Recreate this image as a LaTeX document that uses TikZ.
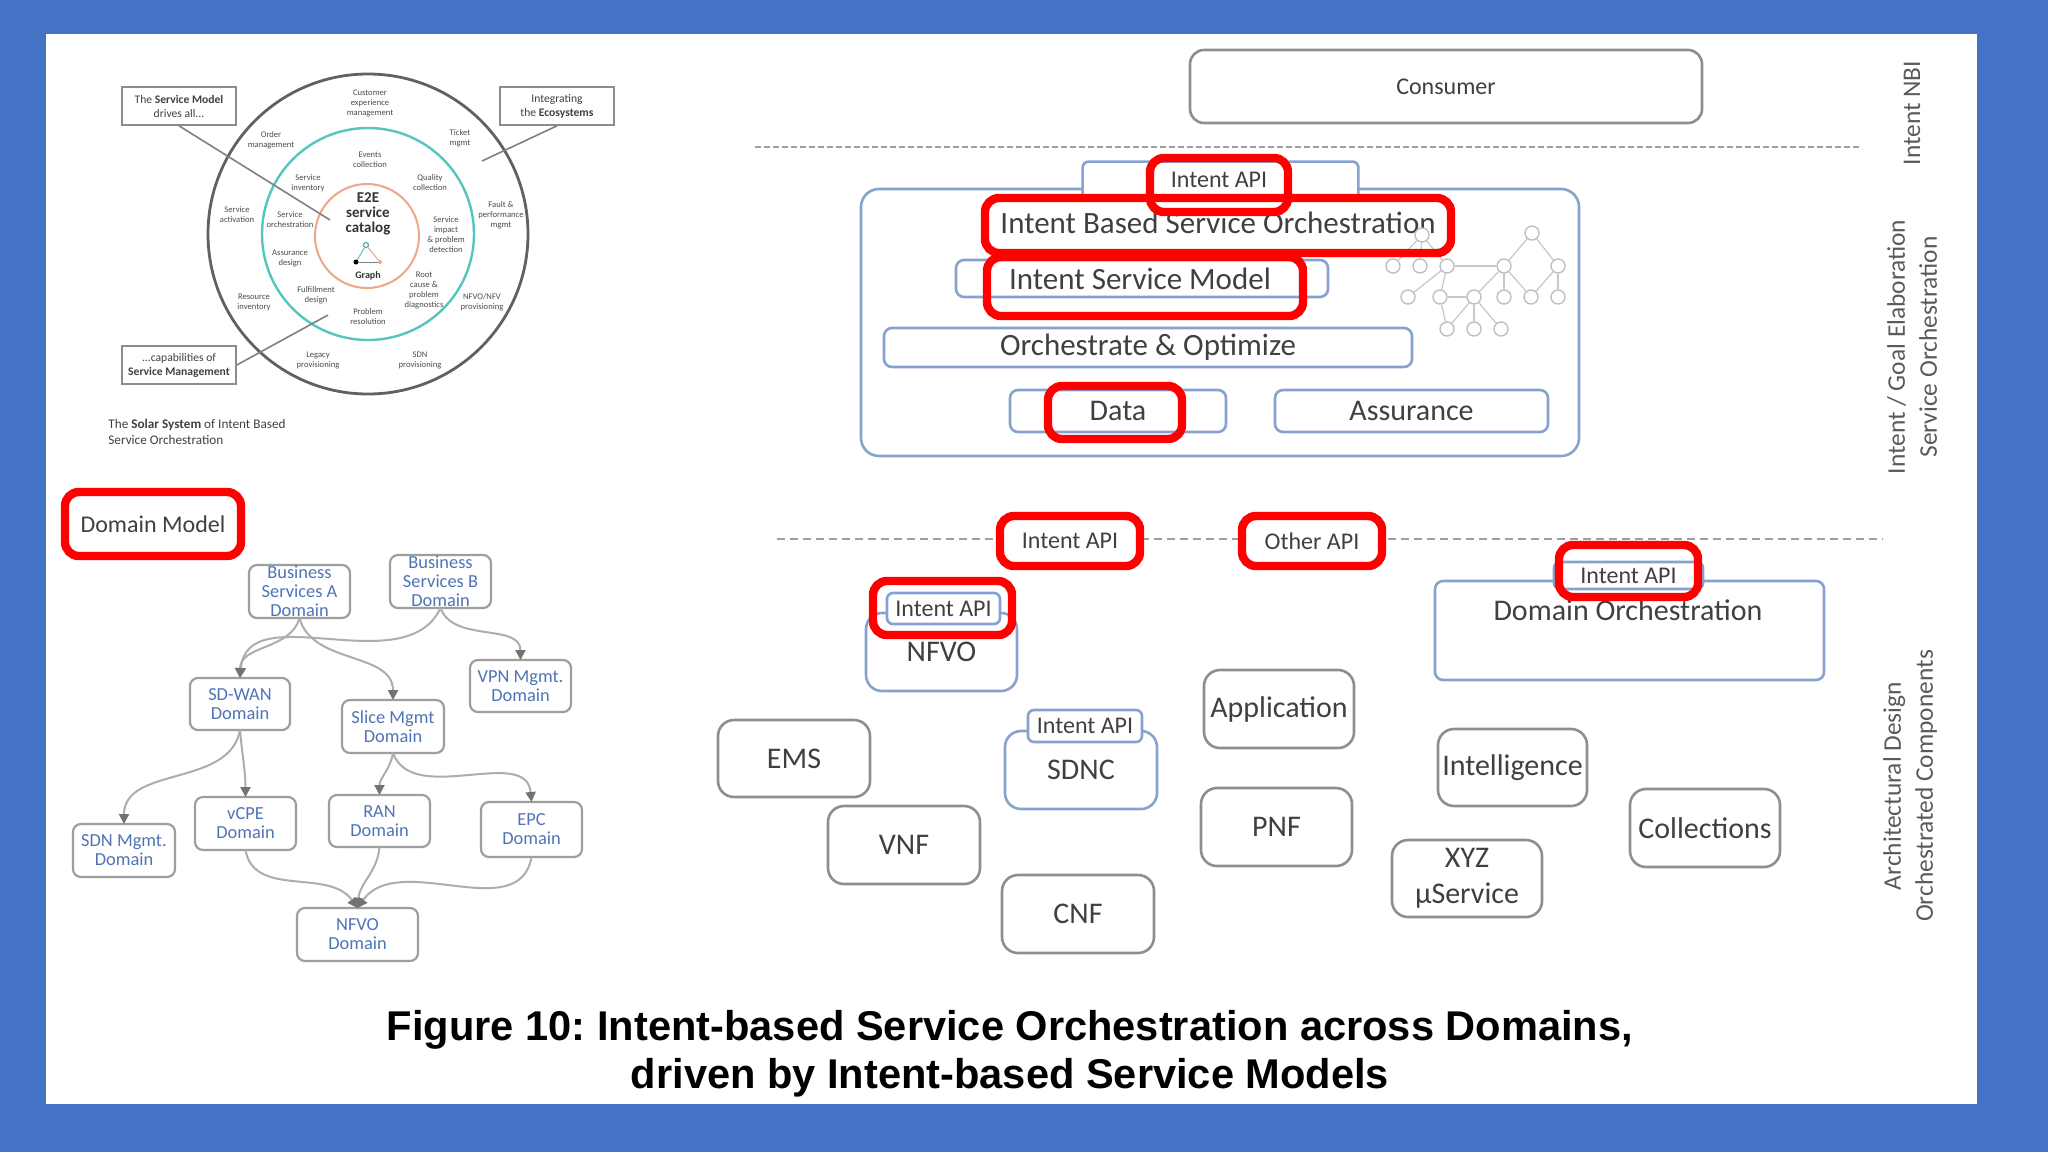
\documentclass[tikz,border=0pt]{standalone}
\usepackage{fontspec}
\setmainfont{Carlito}
\newfontfamily\capfont{Liberation Sans}
\usetikzlibrary{arrows.meta}
\frenchspacing
\definecolor{bgblue}{HTML}{4472C4}
\definecolor{boxgray}{HTML}{8E8E8E}
\definecolor{boxblue}{HTML}{86A2CE}
\definecolor{txtgray}{HTML}{404040}
\definecolor{lblgray}{HTML}{5A5A5A}
\definecolor{ringteal}{HTML}{55C6BD}
\definecolor{ringorange}{HTML}{EFA58C}
\definecolor{dtext}{HTML}{4F74B6}
\newcommand\mybox[7]{\node[#6, minimum width={(#4-#2)*0.5pt}, minimum height={(#5-#3)*0.5pt}] (#1) at ({(#2+#4)/2},{(#3+#5)/2}) {#7};}
\tikzset{
  gbox/.style={draw=boxgray, line width=1.3pt, rounded corners=5pt, fill=white, inner sep=0pt, outer sep=0pt, text=txtgray, font=\fontsize{15}{17}\selectfont, align=center},
  bbox/.style={gbox, draw=boxblue},
  tabbox/.style={bbox, rounded corners=3pt, font=\fontsize{12}{14}\selectfont},
  redbox/.style={draw=red, line width=4.2pt, rounded corners=7pt, inner sep=0pt, outer sep=0pt, text=txtgray, font=\fontsize{12}{14}\selectfont},
  lbl/.style={text=txtgray, inner sep=0pt},
  vlbl/.style={rotate=90, text=lblgray, align=center, inner sep=0pt, font=\fontsize{12.7}{16}\selectfont},
  dashA/.style={draw=black!38, line width=1.4pt, dash pattern=on 3pt off 1.5pt},
  dashB/.style={draw=black!38, line width=1.4pt, dash pattern=on 4pt off 2.5pt},
  tc/.style={circle, draw=black!25, line width=0.7pt, fill=white, minimum size=7pt, inner sep=0pt},
  tedge/.style={draw=black!22, line width=0.6pt},
  ring/.style={font=\fontsize{4.3}{5}\selectfont, align=center, text=black!70, inner sep=0pt},
  callout/.style={draw=black!45, line width=0.8pt, fill=white, minimum width=57pt, minimum height=19pt, align=center, font=\fontsize{5.8}{7}\selectfont, text=black!75, inner sep=1pt},
  cline/.style={draw=black!50, line width=0.8pt},
  dbox/.style={draw=black!38, line width=1.1pt, rounded corners=4pt, fill=white, inner sep=0pt, outer sep=0pt, align=center, text=dtext, font=\fontsize{9.2}{9.5}\selectfont},
  dedge/.style={draw=black!32, line width=1pt, -{Triangle[length=5pt,width=5pt,color=black!55]}},
}
\begin{document}
\begin{tikzpicture}[x=0.5pt,y=-0.5pt]
\fill[bgblue] (0,0) rectangle (2048,1152);
\fill[white] (46,34) rectangle (1977,1104);
\useasboundingbox (0,0) rectangle (2048,1152);

% ---------------- Solar system ----------------
\node[circle, draw=black!62, line width=1.4pt, minimum size=160pt, inner sep=0pt] (outer) at (368,234) {};
\node[circle, draw=ringteal, line width=1.2pt, minimum size=106pt, inner sep=0pt] (tealc) at (368,234) {};
\node[circle, draw=ringorange, line width=1pt, minimum size=52pt, inner sep=0pt] (orc) at (367,236) {};
\node[font=\bfseries\fontsize{7.5}{7.6}\selectfont, align=center, inner sep=0pt, text=black!80] (e2e) at (368,214) {E2E\\service\\catalog};
\node[font=\bfseries\fontsize{5}{6}\selectfont, inner sep=0pt, text=black!80] (graph) at (368,276) {Graph};
\node[circle, fill=black, minimum size=2.5pt, inner sep=0pt] (g1) at (356,262) {};
\node[circle, draw=ringteal!80!black, line width=0.5pt, minimum size=2.5pt, inner sep=0pt] (g2) at (366,245) {};
\node[circle, fill=ringorange, minimum size=2pt, inner sep=0pt] (g3) at (380,262) {};
\draw[ringteal, line width=0.5pt] (g1) -- (g2);
\draw[ringorange, line width=0.5pt] (g2) -- (g3);
\draw[black!50, line width=0.5pt] (g1) -- (g3);

\node[ring] (r1) at (370,103) {Customer\\experience\\management};
\node[ring] (r2) at (271,140) {Order\\management};
\node[ring] (r3) at (460,138) {Ticket\\mgmt};
\node[ring] (r4) at (237,215) {Service\\activation};
\node[ring] (r5) at (501,215) {Fault \&\\performance\\mgmt};
\node[ring] (r6) at (254,302) {Resource\\inventory};
\node[ring] (r7) at (482,302) {NFVO/NFV\\provisioning};
\node[ring] (r8) at (318,360) {Legacy\\provisioning};
\node[ring] (r9) at (420,360) {SDN\\provisioning};
\node[ring] (i1) at (370,160) {Events\\collection};
\node[ring] (i2) at (308,183) {Service\\inventory};
\node[ring] (i3) at (430,183) {Quality\\collection};
\node[ring] (i4) at (290,220) {Service\\orchestration};
\node[ring] (i5) at (446,235) {Service\\impact\\\& problem\\detection};
\node[ring] (i6) at (290,258) {Assurance\\design};
\node[ring] (i7) at (424,290) {Root\\cause \&\\problem\\diagnostics};
\node[ring] (i8) at (316,295) {Fulfillment\\design};
\node[ring] (i9) at (368,317) {Problem\\resolution};

\node[callout] (co1) at (179,106) {The \textbf{Service Model}\\drives all...};
\node[callout] (co2) at (557,106) {Integrating\\the \textbf{Ecosystems}};
\node[callout] (co3) at (179,365) {...capabilities of\\\textbf{Service Management}};
\coordinate (ce1) at (330,220);
\coordinate (ce2) at (482,161);
\coordinate (ce3) at (328,315);
\draw[cline] (co1.south) -- (ce1);
\draw[cline] (co2.south) -- (ce2);
\draw[cline] (co3.east) -- (ce3);
\node[anchor=north west, align=left, font=\fontsize{6.6}{8}\selectfont, text=black!75, inner sep=0pt] (solcap) at (108,419) {The \textbf{Solar System} of Intent Based\\Service Orchestration};

% ---------------- Domain model ----------------
\mybox{dm}{65}{492}{241}{556}{redbox, fill=white}{\fontsize{12}{14}\selectfont Domain Model}
\mybox{bsa}{249}{565}{350}{618}{dbox}{Business\\Services A\\Domain}
\mybox{bsb}{390}{555}{491}{608}{dbox}{Business\\Services B\\Domain}
\mybox{sdwan}{190}{678}{290}{730}{dbox}{SD-WAN\\Domain}
\mybox{slice}{342}{700}{444}{753}{dbox}{Slice Mgmt\\Domain}
\mybox{vpn}{470}{660}{571}{712}{dbox}{VPN Mgmt.\\Domain}
\mybox{sdn}{73}{824}{175}{877}{dbox}{SDN Mgmt.\\Domain}
\mybox{vcpe}{195}{797}{296}{850}{dbox}{vCPE\\Domain}
\mybox{ran}{329}{795}{430}{847}{dbox}{RAN\\Domain}
\mybox{epc}{481}{802}{582}{857}{dbox}{EPC\\Domain}
\mybox{nfvod}{297}{908}{418}{961}{dbox}{NFVO\\Domain}
\draw[dedge] (bsa.south) to[out=-105,in=90] (sdwan.north);
\draw[dedge] (bsa.south) to[out=-75,in=90] (slice.north);
\draw[dedge] (bsb.south) to[out=-115,in=85] (sdwan.north);
\draw[dedge] (bsb.south) to[out=-70,in=90] (vpn.north);
\draw[dedge] (sdwan.south) to[out=-100,in=90] (sdn.north);
\draw[dedge] (sdwan.south) to[out=-85,in=90] (vcpe.north);
\draw[dedge] (slice.south) to[out=-100,in=90] (ran.north);
\draw[dedge] (slice.south) to[out=-70,in=95] (epc.north);
\draw[dedge] (vcpe.south) to[out=-80,in=125] (nfvod.north);
\draw[dedge] (ran.south) to[out=-95,in=85] (nfvod.north);
\draw[dedge] (epc.south) to[out=-100,in=55] (nfvod.north);

% ---------------- Top right ----------------
\mybox{cons}{1190}{50}{1702}{123}{gbox, rounded corners=7pt, font=\fontsize{12}{14}\selectfont}{Consumer}
\coordinate (d1a) at (755,147);
\coordinate (d1b) at (1861,147);
\draw[dashA] (d1a) -- (d1b);

\mybox{orch}{861}{189}{1579}{456}{bbox, rounded corners=9pt}{}
\mybox{tab}{1083}{162}{1358}{195}{draw=none, fill=white, inner sep=0pt}{}
\draw[boxblue, line width=1.3pt, rounded corners=3pt] (tab.south west) -- (tab.north west) -- (tab.north east) -- (tab.south east);
\node[lbl, font=\fontsize{12}{14}\selectfont] (tapi) at (1219,180) {Intent API};
\node[lbl, font=\fontsize{15.5}{17}\selectfont] (ibso) at (1218,223) {Intent Based Service Orchestration};
\mybox{ism}{956}{260}{1328}{297}{bbox, rounded corners=4pt}{}
\node[lbl, font=\fontsize{15.5}{17}\selectfont] (ismt) at (1140,279) {Intent Service Model};
\mybox{oo}{884}{328}{1412}{367}{bbox, rounded corners=4pt, font=\fontsize{15.5}{17}\selectfont}{Orchestrate \& Optimize}
\mybox{data}{1010}{390}{1226}{432}{bbox, rounded corners=4pt}{}
\node[lbl, font=\fontsize{15}{17}\selectfont] (datat) at (1118,411) {Data};
\mybox{assu}{1275}{390}{1548}{432}{bbox, rounded corners=4pt}{Assurance}

% tree graph
\node[tc] (t0) at (1532,233) {};
\node[tc] (t00) at (1422,235) {};
\node[tc] (a1) at (1393,266) {};
\node[tc] (a2) at (1420,266) {};
\node[tc] (a3) at (1447,266) {};
\node[tc] (a4) at (1504,266) {};
\node[tc] (a5) at (1558,266) {};
\node[tc] (b1) at (1408,297) {};
\node[tc] (b2) at (1440,297) {};
\node[tc] (b3) at (1474,297) {};
\node[tc] (b4) at (1504,297) {};
\node[tc] (b5) at (1531,297) {};
\node[tc] (b6) at (1558,297) {};
\node[tc] (c1) at (1447,329) {};
\node[tc] (c2) at (1474,329) {};
\node[tc] (c3) at (1501,329) {};
\draw[tedge] (t0) -- (a4); \draw[tedge] (t0) -- (a5);
\draw[tedge] (a4) -- (b5); \draw[tedge] (a5) -- (b5); \draw[tedge] (a5) -- (b6);
\draw[tedge] (a4) -- (b4); \draw[tedge] (a3) -- (a4);
\draw[tedge] (a3) -- (b1); \draw[tedge] (a3) -- (b2); \draw[tedge] (a4) -- (b3);
\draw[tedge] (b2) -- (b3); \draw[tedge] (b3) -- (c1); \draw[tedge] (b3) -- (c2);
\draw[tedge] (b3) -- (c3); \draw[tedge] (b2) -- (c1);
\draw[tedge] (t00) -- (a1); \draw[tedge] (t00) -- (a2); \draw[tedge] (t00) -- (a3);

% red highlight boxes (top)
\mybox{rtapi}{1150}{158}{1288}{212}{redbox}{}
\mybox{ribso}{985}{198}{1451}{253}{redbox}{}
\mybox{rism}{987}{257}{1303}{316}{redbox}{}
\mybox{rdata}{1048}{386}{1182}{439}{redbox}{}

% vertical labels
\node[vlbl] (vl1) at (1912,113) {Intent NBI};
\node[vlbl] (vl2) at (1912,347) {Intent / Goal Elaboration\\Service Orchestration};
\node[vlbl] (vl3) at (1910,786) {Architectural Design\\Orchestrated Components};

% ---------------- Bottom right ----------------
\coordinate (d2a) at (777,539);
\coordinate (d2b) at (1883,539);
\draw[dashB] (d2a) -- (d2b);
\mybox{mapi}{1000}{516}{1140}{566}{redbox, fill=white}{Intent API}
\mybox{oapi}{1242}{516}{1382}{566}{redbox, fill=white}{Other API}

\mybox{domo}{1435}{581}{1824}{680}{bbox, rounded corners=4pt}{}
\node[lbl, font=\fontsize{15}{17}\selectfont] (domot) at (1628,610) {Domain Orchestration};
\mybox{domtab}{1554}{562}{1703}{589}{tabbox}{Intent API}
\mybox{rdomtab}{1559}{545}{1698}{597}{redbox}{}

\mybox{nfvo}{866}{613}{1017}{691}{bbox, rounded corners=8pt}{NFVO}
\mybox{nfvotab}{887}{593}{1000}{624}{tabbox}{Intent API}
\mybox{rnfvotab}{873}{581}{1012}{635}{redbox}{}

\mybox{sdnc}{1005}{731}{1157}{809}{bbox, rounded corners=8pt}{SDNC}
\mybox{sdnctab}{1028}{710}{1142}{742}{tabbox}{Intent API}

\mybox{ems}{718}{720}{870}{797}{gbox, rounded corners=8pt}{EMS}
\mybox{vnf}{828}{806}{980}{884}{gbox, rounded corners=8pt}{VNF}
\mybox{cnf}{1002}{875}{1154}{953}{gbox, rounded corners=8pt}{CNF}
\mybox{app}{1204}{670}{1354}{748}{gbox, rounded corners=8pt}{Application}
\mybox{pnf}{1201}{788}{1352}{866}{gbox, rounded corners=8pt}{PNF}
\mybox{intel}{1438}{729}{1587}{806}{gbox, rounded corners=8pt}{Intelligence}
\mybox{xyz}{1392}{840}{1542}{917}{gbox, rounded corners=8pt, font=\fontsize{15}{18}\selectfont}{XYZ\\µService}
\mybox{coll}{1630}{789}{1780}{867}{gbox, rounded corners=8pt}{Collections}

% ---------------- Caption ----------------
\node[font=\capfont\bfseries\fontsize{20.8}{24}\selectfont, align=center, inner sep=0pt, text=black] (cap) at (1010,1054) {Figure 10: Intent-based Service Orchestration across Domains,\\driven by Intent-based Service Models};
\end{tikzpicture}
\end{document}
